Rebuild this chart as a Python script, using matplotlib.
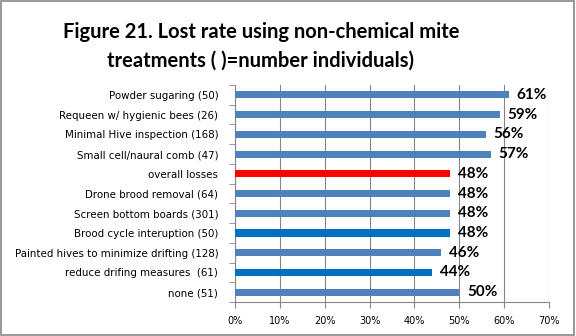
import matplotlib.pyplot as plt
from matplotlib.patches import Rectangle

categories = [
    "Powder sugaring (50)",
    "Requeen w/ hygienic bees (26)",
    "Minimal Hive inspection (168)",
    "Small cell/naural comb (47)",
    "overall losses",
    "Drone brood removal (64)",
    "Screen bottom boards (301)",
    "Brood cycle interuption (50)",
    "Painted hives to minimize drifting (128)",
    "reduce drifing measures  (61)",
    "none (51)",
]
values = [61, 59, 56, 57, 48, 48, 48, 48, 46, 44, 50]
bar_colors = ["#4F81BD"] * 4 + ["#FF0000"] + ["#4F81BD"] * 2 + ["#0070C0", "#4F81BD", "#0070C0", "#4F81BD"]
x_ticks = [0, 10, 20, 30, 40, 50, 60, 70]

fig = plt.figure(figsize=(5.76, 3.36), dpi=100)
ax = fig.add_axes([0.408, 0.101, 0.545, 0.646])

pos = list(range(len(categories)))
ax.barh(pos, values, height=0.36, color=bar_colors, zorder=3)
ax.set_ylim(len(categories) - 0.5, -0.5)
ax.set_xlim(0, 70)

for p, v in zip(pos, values):
    ax.text(v + 1.7, p, f"{v}%", va="center", ha="left", fontsize=11,
            fontweight="bold", family="Lato", color="black", zorder=4)

ax.set_xticks(x_ticks)
ax.set_xticklabels([f"{t}%" for t in x_ticks], fontsize=7, family="DejaVu Sans")
ax.set_yticks(pos)
ax.set_yticklabels(categories, fontsize=7.4, family="DejaVu Sans")
ax.set_yticks([p - 0.5 for p in pos] + [len(pos) - 0.5], minor=True)
ax.tick_params(axis="y", which="major", length=0, pad=12)
ax.tick_params(axis="y", which="minor", length=4, color="#868686")
ax.tick_params(axis="x", length=4, color="#868686", pad=6)
ax.grid(axis="x", color="#868686", linewidth=0.8, zorder=0)

for s in ["top", "right"]:
    ax.spines[s].set_visible(False)
for s in ["left", "bottom"]:
    ax.spines[s].set_color("#868686")
    ax.spines[s].set_linewidth(0.8)

fig.text(0.453, 0.905, "Figure 21. Lost rate using non-chemical mite", ha="center", va="center",
         fontsize=14.5, fontweight="bold", family="Lato")
fig.text(0.453, 0.82, "treatments ( )=number individuals)", ha="center", va="center",
         fontsize=14.5, fontweight="bold", family="Lato")

fig.patches.append(Rectangle((0.002, 0.003), 0.995, 0.993, transform=fig.transFigure,
                             fill=False, edgecolor="#868686", linewidth=1.2))

fig.savefig("out.png", dpi=100)
